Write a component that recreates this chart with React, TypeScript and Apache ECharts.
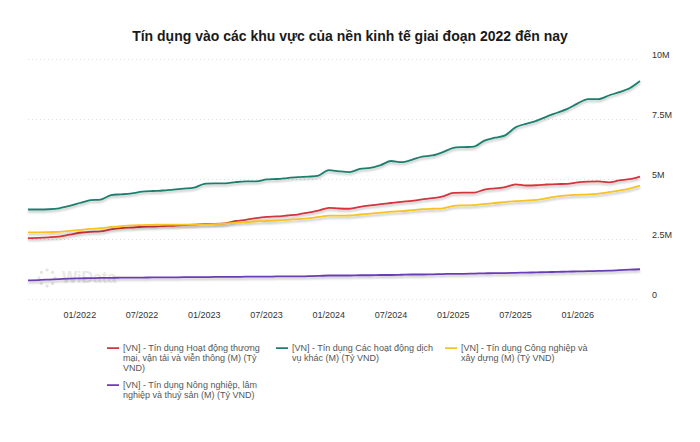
import { useEffect, useRef } from 'react';
import * as echarts from 'echarts';

const title = 'Tín dụng vào các khu vực của nền kinh tế giai đoạn 2022 đến nay';

// monthly points, 08/2021 -> 07/2026
const months = [
  '08/2021', '09/2021', '10/2021', '11/2021', '12/2021',
  '01/2022', '02/2022', '03/2022', '04/2022', '05/2022', '06/2022', '07/2022', '08/2022', '09/2022', '10/2022', '11/2022', '12/2022',
  '01/2023', '02/2023', '03/2023', '04/2023', '05/2023', '06/2023', '07/2023', '08/2023', '09/2023', '10/2023', '11/2023', '12/2023',
  '01/2024', '02/2024', '03/2024', '04/2024', '05/2024', '06/2024', '07/2024', '08/2024', '09/2024', '10/2024', '11/2024', '12/2024',
  '01/2025', '02/2025', '03/2025', '04/2025', '05/2025', '06/2025', '07/2025', '08/2025', '09/2025', '10/2025', '11/2025', '12/2025',
  '01/2026', '02/2026', '03/2026', '04/2026', '05/2026', '06/2026', '07/2026',
];

const seriesNames = [
  '[VN] - Tín dụng Hoạt động thương mại, vận tải và viễn thông (M) (Tỷ VND)',
  '[VN] - Tín dụng Các hoạt động dịch vụ khác (M) (Tỷ VND)',
  '[VN] - Tín dụng Công nghiệp và xây dựng (M) (Tỷ VND)',
  '[VN] - Tín dụng Nông nghiệp, lâm nghiệp và thuỷ sản (M) (Tỷ VND)',
];

const legendLines = [
  ['[VN] - Tín dụng Hoạt động thương', 'mại, vận tải và viễn thông (M) (Tỷ', 'VND)'],
  ['[VN] - Tín dụng Các hoạt động dịch', 'vụ khác (M) (Tỷ VND)'],
  ['[VN] - Tín dụng Công nghiệp và', 'xây dựng (M) (Tỷ VND)'],
  ['[VN] - Tín dụng Nông nghiệp, lâm', 'nghiệp và thuỷ sản (M) (Tỷ VND)'],
];

const colors = ['#d4353c', '#1e7f6e', '#f7c324', '#6a3db4'];

// values in millions (tỷ VND)
const tradeTransport = [
  2.54, 2.55, 2.57, 2.6, 2.68, 2.76, 2.8, 2.82, 2.9, 2.95, 2.98, 3.01, 3.02, 3.04, 3.05,
  3.08, 3.1, 3.13, 3.13, 3.15, 3.25, 3.3, 3.37, 3.42, 3.44, 3.48, 3.52, 3.6, 3.68, 3.8,
  3.77, 3.76, 3.84, 3.9, 3.95, 4.0, 4.05, 4.09, 4.15, 4.2, 4.28, 4.42, 4.43, 4.43, 4.56,
  4.61, 4.66, 4.78, 4.73, 4.74, 4.77, 4.79, 4.8, 4.86, 4.89, 4.9, 4.86, 4.94, 4.99, 5.1,
];
const otherServices = [
  3.73, 3.73, 3.74, 3.78, 3.88, 4.0, 4.12, 4.14, 4.33, 4.36, 4.4, 4.47, 4.5, 4.52, 4.56,
  4.6, 4.64, 4.8, 4.82, 4.82, 4.87, 4.9, 4.9, 4.98, 5.0, 5.04, 5.08, 5.1, 5.14, 5.37,
  5.32, 5.29, 5.42, 5.46, 5.58, 5.75, 5.7, 5.8, 5.93, 5.98, 6.12, 6.3, 6.33, 6.35, 6.6,
  6.72, 6.82, 7.15, 7.3, 7.42, 7.6, 7.76, 7.92, 8.15, 8.33, 8.33, 8.48, 8.62, 8.78, 9.08,
];
const industryConstruction = [
  2.78, 2.78, 2.79, 2.8, 2.84, 2.88, 2.92, 2.95, 3.0, 3.04, 3.07, 3.08, 3.09, 3.1, 3.1,
  3.1, 3.1, 3.11, 3.12, 3.14, 3.18, 3.2, 3.24, 3.25, 3.27, 3.3, 3.33, 3.36, 3.42, 3.47,
  3.47, 3.48, 3.52, 3.56, 3.6, 3.64, 3.66, 3.7, 3.74, 3.76, 3.78, 3.88, 3.9, 3.91, 3.96,
  4.0, 4.04, 4.08, 4.1, 4.13, 4.2, 4.28, 4.32, 4.34, 4.36, 4.39, 4.45, 4.52, 4.6, 4.72,
];
const agriculture = [
  0.78, 0.79, 0.81, 0.83, 0.85, 0.86, 0.87, 0.88, 0.88, 0.89, 0.89, 0.89, 0.9, 0.9, 0.9,
  0.91, 0.91, 0.91, 0.92, 0.92, 0.92, 0.93, 0.93, 0.93, 0.94, 0.94, 0.94, 0.95, 0.96, 0.98,
  0.98, 0.98, 0.99, 0.99, 1.0, 1.0, 1.01, 1.02, 1.02, 1.03, 1.04, 1.05, 1.05, 1.06, 1.07,
  1.08, 1.08, 1.09, 1.1, 1.11, 1.12, 1.13, 1.14, 1.15, 1.16, 1.17, 1.18, 1.2, 1.22, 1.24,
];

const seriesData = [tradeTransport, otherServices, industryConstruction, agriculture];
const legendPos = [
  { left: 102, top: 338 },
  { left: 271, top: 338 },
  { left: 440, top: 338 },
  { left: 102, top: 375 },
];

const font = '"Liberation Sans", Arial, Helvetica, sans-serif';

// line sits on the first text row; tiny dots fix the icon box height
const legendIcon = (rows: number) => {
  const h = rows * 10;
  return `path://M0,0h0.01v0.01h-0.01zM0,4.3h12v1.6h-12zM0,${h - 0.01}h0.01v0.01h-0.01z`;
};

export default function App() {
  const chartRef = useRef<HTMLDivElement>(null);

  useEffect(() => {
    document.body.style.margin = '0';
    if (!chartRef.current) return;
    const chart = echarts.init(chartRef.current, undefined, { renderer: 'svg' });

    const dots = Array.from({ length: 8 }, (_, k) => {
      const a = (k / 8) * Math.PI * 2;
      return {
        type: 'circle',
        shape: { cx: 47 + Math.cos(a) * 8, cy: 278 + Math.sin(a) * 8, r: 1.6 },
        style: { fill: '#e4e4e4' },
        z: -1,
      };
    });

    const option: echarts.EChartsOption = {
      animation: false,
      textStyle: { fontFamily: font },
      title: {
        text: title,
        left: 'center',
        top: 24,
        textStyle: { fontSize: 14, fontWeight: 'bold', color: '#1a1a1a', fontFamily: font },
      },
      graphic: [
        ...dots,
        {
          type: 'text',
          left: 62,
          top: 269,
          z: -1,
          style: { text: 'WiData', fontSize: 16, fontWeight: 'bold', fill: '#e8e8e8', fontFamily: font },
        },
      ] as any,
      legend: seriesNames.map((name, i) => ({
        data: [name],
        left: legendPos[i].left,
        top: legendPos[i].top,
        icon: legendIcon(legendLines[i].length),
        symbolKeepAspect: false,
        itemWidth: 12,
        itemHeight: legendLines[i].length * 10,
        itemGap: 0,
        selectedMode: false,
        formatter: () => legendLines[i].join('\n'),
        textStyle: { fontSize: 9, lineHeight: 10, color: '#555', fontFamily: font, padding: [0, 0, 0, -1] },
      })),
      grid: { left: 28, right: 60, top: 59, bottom: 143 },
      xAxis: {
        type: 'category',
        data: months,
        boundaryGap: false,
        axisLine: { show: false },
        axisTick: { show: false },
        axisLabel: {
          interval: (index: number) =>
            index < months.length - 1 && (months[index].startsWith('01/') || months[index].startsWith('07/')),
          fontSize: 9,
          color: '#333',
          margin: 11,
        },
        splitLine: { show: false },
      },
      yAxis: {
        type: 'value',
        position: 'right',
        min: 0,
        max: 10,
        interval: 2.5,
        axisLine: { show: false },
        axisTick: { show: false },
        axisLabel: {
          formatter: (v: number) => (v === 0 ? '0' : `${v}M`),
          fontSize: 9,
          color: '#333',
          margin: 12,
          verticalAlign: 'bottom',
        },
        splitLine: { lineStyle: { color: '#dcdcdc', type: [1, 3] } },
      },
      series: seriesNames.map((name, i) => ({
        name,
        type: 'line',
        data: seriesData[i],
        smooth: 0.3,
        symbol: 'none',
        color: colors[i],
        lineStyle: {
          width: 1.8,
          color: colors[i],
          shadowColor: 'rgba(0,0,0,0.25)',
          shadowBlur: 2,
          shadowOffsetY: 2,
        },
      })),
    };

    chart.setOption(option);

    return () => {
      chart.dispose();
    };
  }, []);

  return <div ref={chartRef} style={{ width: 700, height: 442 }}></div>;
}
